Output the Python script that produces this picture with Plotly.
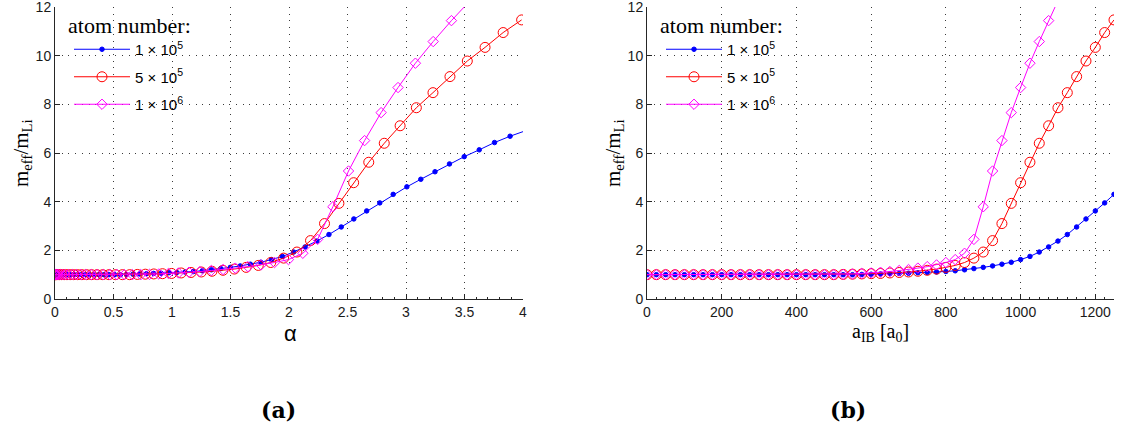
import plotly.graph_objects as go

# ---------------- data ----------------
# interspecies scattering length grid [a0]
a_IB = [0, 25, 50, 75, 100, 125, 150, 175, 200, 225, 250, 275, 300, 325, 350,
        375, 400, 425, 450, 475, 500, 525, 550, 575, 600, 625, 650, 675, 700,
        725, 750, 775, 800, 825, 850, 875, 900, 925, 950, 975, 1000, 1025, 1050,
        1075, 1100, 1125, 1150, 1175, 1200, 1225, 1250, 1275, 1300, 1325, 1350,
        1375, 1400, 1425, 1450, 1475]

# coupling constant alpha for each point
alpha_1e5 = [0.0, 0.0012, 0.0046, 0.0104, 0.0185, 0.0289, 0.0416, 0.0567, 0.0740,
             0.0937, 0.1156, 0.1399, 0.1665, 0.1954, 0.2266, 0.2602, 0.2960, 0.3342,
             0.3746, 0.4174, 0.4625, 0.5099, 0.5596, 0.6117, 0.6660, 0.7227, 0.7816,
             0.8429, 0.9065, 0.9724, 1.0406, 1.1112, 1.1840, 1.2592, 1.3366, 1.4164,
             1.4985, 1.5829, 1.6697, 1.7587, 1.8500, 1.9437, 2.0396, 2.1379, 2.2385,
             2.3414, 2.4466, 2.5542, 2.6640, 2.7761, 2.8906, 3.0074, 3.1265, 3.2479,
             3.3716, 3.4977, 3.6260, 3.7567, 3.8897, 4.0250]
alpha_5e5 = [0.0, 0.0016, 0.0064, 0.0144, 0.0255, 0.0399, 0.0574, 0.0782, 0.1021,
             0.1292, 0.1595, 0.1930, 0.2297, 0.2696, 0.3127, 0.3589, 0.4084, 0.4610,
             0.5169, 0.5759, 0.6381, 0.7035, 0.7721, 0.8439, 0.9189, 0.9971, 1.0784,
             1.1630, 1.2507, 1.3417, 1.4358, 1.5331, 1.6336, 1.7373, 1.8442, 1.9542,
             2.0675, 2.1840, 2.3036, 2.4265, 2.5525, 2.6817, 2.8141, 2.9497, 3.0885,
             3.2305, 3.3757, 3.5240, 3.6756, 3.8303, 3.9883]
alpha_1e6 = [0.0, 0.0018, 0.0073, 0.0165, 0.0293, 0.0458, 0.0660, 0.0898, 0.1173,
             0.1484, 0.1833, 0.2217, 0.2639, 0.3097, 0.3592, 0.4123, 0.4691, 0.5296,
             0.5937, 0.6615, 0.7330, 0.8081, 0.8869, 0.9694, 1.0555, 1.1453, 1.2388,
             1.3359, 1.4367, 1.5411, 1.6493, 1.7610, 1.8765, 1.9956, 2.1184, 2.2448,
             2.3749, 2.5087, 2.6461, 2.7873, 2.9320, 3.0805, 3.2325, 3.3883, 3.5477,
             3.7107]

# effective mass m_eff / m_Li
m_1e5 = [1.00, 1.00, 1.00, 1.00, 1.00, 1.00, 1.00, 1.00, 1.00, 1.00, 1.00, 1.00,
         1.00, 1.00, 1.00, 1.00, 1.00, 1.00, 1.00, 1.00, 1.00, 1.00, 1.00, 1.01,
         1.02, 1.03, 1.04, 1.05, 1.06, 1.08, 1.09, 1.11, 1.13, 1.16, 1.20, 1.25,
         1.30, 1.36, 1.43, 1.51, 1.62, 1.75, 1.93, 2.14, 2.38, 2.65, 2.96, 3.29,
         3.62, 3.95, 4.30, 4.61, 4.92, 5.23, 5.55, 5.85, 6.13, 6.43, 6.69, 6.92]
m_5e5 = [1.00, 1.00, 1.00, 1.00, 1.00, 1.00, 1.00, 1.00, 1.00, 1.00, 1.00, 1.00,
         1.00, 1.00, 1.00, 1.00, 1.00, 1.00, 1.00, 1.00, 1.00, 1.01, 1.02, 1.03,
         1.04, 1.05, 1.07, 1.09, 1.11, 1.14, 1.18, 1.23, 1.30, 1.38, 1.50, 1.68,
         1.93, 2.40, 3.10, 3.93, 4.78, 5.62, 6.40, 7.12, 7.86, 8.48, 9.14, 9.78,
         10.34, 10.95, 11.47]
m_1e6 = [1.00, 1.00, 1.00, 1.00, 1.00, 1.00, 1.00, 1.00, 1.00, 1.00, 1.00, 1.00,
         1.00, 1.00, 1.00, 1.00, 1.00, 1.00, 1.00, 1.00, 1.00, 1.01, 1.03, 1.05,
         1.07, 1.10, 1.13, 1.17, 1.21, 1.27, 1.33, 1.40, 1.50, 1.62, 1.88, 2.45,
         3.79, 5.26, 6.51, 7.66, 8.69, 9.69, 10.58, 11.44, 12.30, 13.10]

series_names = ["1 × 10<sup>5</sup>", "5 × 10<sup>5</sup>", "1 × 10<sup>6</sup>"]
legend_title = "atom number:"
x_ticks_a = [0, 0.5, 1, 1.5, 2, 2.5, 3, 3.5, 4]
x_ticks_b = [0, 200, 400, 600, 800, 1000, 1200]
y_ticks = [0, 2, 4, 6, 8, 10, 12]

# ---------------- style ----------------
colors = ["#0000FF", "#FF0000", "#FF00FF"]
markers = [dict(symbol="circle", size=4.5),
           dict(symbol="circle-open", size=10),
           dict(symbol="diamond-open", size=8)]
AX = "#262626"
SANS = "Liberation Sans, Arial, sans-serif"
SERIF = "Liberation Serif, Times New Roman, serif"

alphas = [alpha_1e5, alpha_5e5, alpha_1e6]
masses = [m_1e5, m_5e5, m_1e6]

fig = go.Figure()
for i in range(3):
    mk = dict(markers[i])
    mk.update(color=colors[i], line=dict(color=colors[i], width=1))
    fig.add_trace(go.Scatter(x=alphas[i], y=masses[i], mode="lines+markers",
                             name=series_names[i], line=dict(color=colors[i], width=1),
                             marker=mk, xaxis="x", yaxis="y", legend="legend",
                             legendgroup="a%d" % i))
for i in range(3):
    mk = dict(markers[i])
    mk.update(color=colors[i], line=dict(color=colors[i], width=1))
    xs = [a for a in a_IB[:len(masses[i])] if a <= 1250]
    ys = masses[i][:len(xs)]
    fig.add_trace(go.Scatter(x=xs, y=ys, mode="lines+markers",
                             name=series_names[i], line=dict(color=colors[i], width=1),
                             marker=mk, xaxis="x2", yaxis="y2", legend="legend2",
                             legendgroup="b%d" % i))

W, H = 1130, 428
def xd(p0, p1):
    return [p0 / W, p1 / W]
ydom = [1 - 299 / H, 1 - 7 / H]

common_x = dict(showline=True, linecolor=AX, linewidth=1, ticks="inside", ticklen=5,
                tickcolor=AX, showgrid=True, gridcolor="#3a3a3a", gridwidth=1,
                griddash="1px,5.7px", zeroline=False, mirror=False, automargin=False,
                ticklabeloverflow="allow",
                tickfont=dict(family=SANS, size=14, color="#1a1a1a"))
fig.update_layout(
    template="none",
    width=W, height=H, margin=dict(l=0, r=0, t=0, b=0, pad=0), autosize=False,
    paper_bgcolor="white", plot_bgcolor="white",
    xaxis=dict(domain=xd(55, 523), range=[0, 4], tickvals=x_ticks_a, anchor="y",
               minor=dict(ticks="inside", ticklen=2, dtick=0.1, tickcolor=AX, showgrid=False),
               **common_x),
    yaxis=dict(domain=ydom, range=[0, 12], tickvals=y_ticks, anchor="x", **common_x),
    xaxis2=dict(domain=xd(647, 1114), range=[0, 1250], tickvals=x_ticks_b, anchor="y2",
                minor=dict(ticks="inside", ticklen=2, dtick=25, tickcolor=AX, showgrid=False),
                **common_x),
    yaxis2=dict(domain=ydom, range=[0, 12], tickvals=y_ticks, anchor="x2", **common_x),
    showlegend=True,
)

leg_common = dict(xanchor="left", yanchor="top", bgcolor="rgba(0,0,0,0)", borderwidth=0,
                  itemwidth=56, tracegroupgap=5,
                  font=dict(family=SANS, size=15, color="black"))
fig.update_layout(legend=dict(x=69 / W, y=1 - 33 / H, **leg_common),
                  legend2=dict(x=661 / W, y=1 - 33 / H, **leg_common))

# white boxes behind the legends (above the grid, below the traces)
shapes = []
for x0 in (57, 649):
    shapes.append(dict(type="rect", xref="paper", yref="paper",
                       x0=x0 / W, x1=(x0 + 134) / W, y0=1 - 113 / H, y1=1 - 10 / H,
                       fillcolor="white", line=dict(width=0), layer="between"))
fig.update_layout(shapes=shapes)

ytitle = "m<sub>eff</sub>/m<sub>Li</sub>"
ann = [
    dict(text=legend_title, x=66 / W, y=1 - 25 / H, xanchor="left",
         font=dict(family=SERIF, size=22, color="black")),
    dict(text=legend_title, x=658 / W, y=1 - 25 / H, xanchor="left",
         font=dict(family=SERIF, size=22, color="black")),
    dict(text=ytitle, x=22 / W, y=1 - 153 / H, textangle=-90,
         font=dict(family=SERIF, size=21, color="black")),
    dict(text=ytitle, x=614 / W, y=1 - 153 / H, textangle=-90,
         font=dict(family=SERIF, size=21, color="black")),
    dict(text="α", x=290 / W, y=1 - 333 / H, font=dict(family=SANS, size=22, color="black")),
    dict(text="a<sub>IB</sub> [a<sub>0</sub>]", x=880 / W, y=1 - 332 / H,
         font=dict(family=SERIF, size=20, color="black")),
    dict(text="<b>(a)</b>", x=278 / W, y=1 - 410 / H,
         font=dict(family="DejaVu Serif", size=22, color="black")),
    dict(text="<b>(b)</b>", x=848 / W, y=1 - 410 / H,
         font=dict(family="DejaVu Serif", size=22, color="black")),
]
for a in ann:
    a.setdefault("xanchor", "center")
    a.update(xref="paper", yref="paper", showarrow=False, yanchor="middle")
fig.update_layout(annotations=ann)

fig.write_html("out.html")
